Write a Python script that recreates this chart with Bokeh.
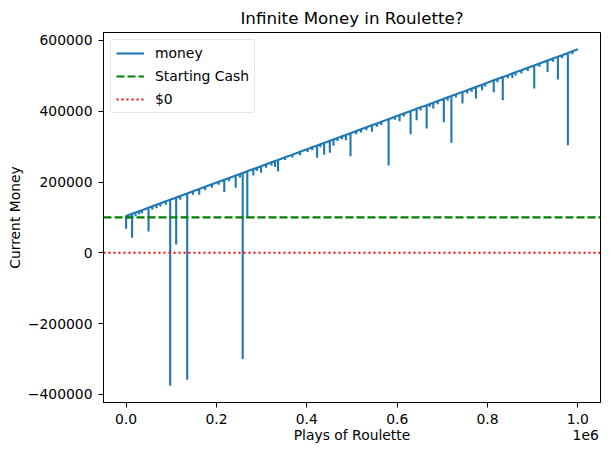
from bokeh.plotting import figure
from bokeh.models import Range1d, FixedTicker, Span, Legend, LegendItem, LinearAxis
from bokeh.embed import file_html
from bokeh.resources import INLINE

# ---- data ----
title_text = "Infinite Money in Roulette?"
x_label = "Plays of Roulette"
y_label = "Current Money"
starting_cash = 100000
zero_level = 0
x_tick_values = [0, 200000, 400000, 600000, 800000, 1000000]
x_tick_labels = ["0.0", "0.2", "0.4", "0.6", "0.8", "1.0"]
x_offset_text = "1e6"
y_tick_values = [-400000, -200000, 0, 200000, 400000, 600000]
y_tick_labels = ["\u2212400000", "\u2212200000", "0", "200000", "400000", "600000"]

spike_plays = [0, 5000, 13300, 21000, 28800, 35000, 49700, 58000, 67400, 76000,
               88000, 97600, 110900, 120000, 135300, 148000, 161900, 175000, 190000, 205000,
               217300, 228000, 242600, 252000, 258100, 268300, 281600, 290000, 298700, 310000,
               322000, 329700, 336400, 352000, 368000, 385000, 401900, 412000, 422800, 430000,
               438400, 451000, 459000, 468000, 478000, 486500, 496700, 509300, 520000, 532000,
               544100, 555000, 565000, 581000, 595000, 605300, 615000, 629700, 643000, 652000,
               665200, 672000, 680000, 690000, 703300, 712000, 720000, 730000, 744500, 755000,
               765000, 774300, 788000, 795000, 813700, 822000, 833700, 845000, 854900, 862000,
               875000, 889100, 903300, 915000, 932800, 945000, 955700, 965000, 977800, 988000]
spike_top = [104000, 106400, 110300, 113900, 117600, 120500, 127400, 131300, 135700, 139800,
             145400, 150000, 156200, 160500, 167700, 173700, 180300, 186400, 193500, 200600,
             206300, 211400, 218300, 222700, 225600, 230400, 236600, 240600, 244700, 250000,
             255700, 259300, 262400, 269800, 277300, 285300, 293300, 298100, 303100, 306500,
             310500, 316400, 320200, 324400, 329100, 333100, 338000, 343900, 348900, 354600,
             360300, 365400, 370100, 377700, 384200, 389100, 393700, 400600, 406900, 411100,
             417300, 420500, 424300, 429000, 435300, 439400, 443100, 447800, 454700, 459600,
             464300, 468700, 475100, 478400, 487300, 491200, 496700, 502000, 506700, 510000,
             516100, 522800, 529500, 535000, 543400, 549100, 554100, 558500, 564500, 569300]
spike_low = [68000, 96000, 42400, 103000, 108000, 112000, 60300, 122000, 126000, 131000,
             136000, -375500, 23500, 150000, -358500, 164000, 164100, 177000, 184000, 192000,
             171500, 202000, 183900, 212000, -300000, 97900, 218700, 232000, 226400, 240000,
             246000, 242200, 230000, 262000, 269000, 276000, 285000, 290000, 268800, 298000,
             277300, 283000, 302800, 316000, 321000, 317800, 272500, 334700, 340000, 346000,
             342000, 356000, 361000, 247000, 376000, 371500, 385000, 334700, 374400, 402000,
             350900, 412000, 407500, 420000, 369000, 430000, 311300, 439000, 421600, 450000,
             455000, 435800, 459300, 470000, 453500, 482000, 431400, 493000, 494000, 501000,
             507000, 514000, 464200, 526000, 511000, 540000, 489400, 550000, 303600, 561000]
final_play = 1000000
final_money = 575000

# ---- build the series (vertical dips at each spike) ----
xs, ys = [], []
for px_, top, low in zip(spike_plays, spike_top, spike_low):
    xs += [px_, px_, px_]
    ys += [top, low, top]
xs.append(final_play)
ys.append(final_money)

xmin, xmax = min(xs), max(xs)
ymin, ymax = min(ys), max(ys)
xpad = (xmax - xmin) * 0.05
ypad = (ymax - ymin) * 0.05
x_start, x_end = xmin - xpad, xmax + xpad

FONT = "DejaVu Sans"
TICK_FS = "13.9px"
FRAME_W, FRAME_H = 497, 370

p = figure(frame_width=FRAME_W, frame_height=FRAME_H,
           x_range=Range1d(x_start, x_end),
           y_range=Range1d(ymin - ypad, ymax + ypad),
           output_backend="svg", toolbar_location=None,
           min_border_left=103, min_border_right=9, min_border_top=32, min_border_bottom=53,
           title=title_text)

p.background_fill_color = "white"
p.border_fill_color = "white"
p.outline_line_color = "black"
p.outline_line_width = 1
p.xgrid.visible = False
p.ygrid.visible = False

p.title.text_font = FONT
p.title.text_font_size = "16.7px"
p.title.text_font_style = "normal"
p.title.align = "center"
p.title.text_color = "black"
p.title.standoff = 10


def style_axis(ax):
    ax.axis_line_color = "black"
    ax.major_tick_line_color = "black"
    ax.major_tick_out = 5
    ax.major_tick_in = 0
    ax.minor_tick_line_color = None
    ax.major_label_text_font = FONT
    ax.major_label_text_font_size = TICK_FS
    ax.major_label_text_color = "black"
    ax.axis_label_text_font = FONT
    ax.axis_label_text_font_size = TICK_FS
    ax.axis_label_text_font_style = "normal"
    ax.axis_label_text_color = "black"


style_axis(p.xaxis[0])
style_axis(p.yaxis[0])

p.xaxis.ticker = FixedTicker(ticks=x_tick_values)
p.xaxis.major_label_overrides = {v: t for v, t in zip(x_tick_values, x_tick_labels)}
p.xaxis.major_label_standoff = 6

p.yaxis.ticker = FixedTicker(ticks=y_tick_values)
p.yaxis.major_label_overrides = {v: t for v, t in zip(y_tick_values, y_tick_labels)}
p.yaxis.axis_label = y_label
p.yaxis.major_label_standoff = 6
p.yaxis.axis_label_standoff = 2

# second, line-less axis below: carries the axis title (centred) and the offset text "1e6"
px_per_unit = FRAME_W / (x_end - x_start)
label_pos = (x_start + x_end) / 2
offset_pos = x_end - 14.8 / px_per_unit
text_axis = LinearAxis(ticker=FixedTicker(ticks=[label_pos, offset_pos]),
                       major_label_overrides={label_pos: x_label, offset_pos: x_offset_text})
style_axis(text_axis)
text_axis.axis_line_color = None
text_axis.major_tick_line_color = None
text_axis.major_tick_out = 0
text_axis.major_label_standoff = 0
p.add_layout(text_axis, "below")

money = p.line(xs, ys, line_color="#1f77b4", line_width=2.1)

p.add_layout(Span(location=starting_cash, dimension="width", line_color="green",
                  line_width=2.1, line_dash="8 3"))
p.add_layout(Span(location=zero_level, dimension="width", line_color="red",
                  line_width=2.1, line_dash="2 3"))

# one-point lines: draw nothing in the plot, but give the legend its samples
green_proxy = p.line([xmin], [starting_cash], line_color="green", line_width=2.1, line_dash="8 3")
red_proxy = p.line([xmin], [zero_level], line_color="red", line_width=2.1, line_dash="2 3")

legend = Legend(items=[LegendItem(label="money", renderers=[money]),
                       LegendItem(label="Starting Cash", renderers=[green_proxy]),
                       LegendItem(label="$0", renderers=[red_proxy])],
                location="top_left")
legend.margin = 7
legend.padding = 5
legend.spacing = 7
legend.glyph_width = 28
legend.glyph_height = 14
legend.label_height = 14
legend.label_standoff = 11
legend.label_text_font = FONT
legend.label_text_font_size = TICK_FS
legend.label_text_color = "black"
legend.border_line_color = "#cccccc"
legend.border_line_width = 1
legend.background_fill_color = "white"
legend.background_fill_alpha = 0.8
try:
    legend.border_radius = 3
except Exception:
    pass
p.add_layout(legend)

open("out.html", "w").write(file_html(p, INLINE))
